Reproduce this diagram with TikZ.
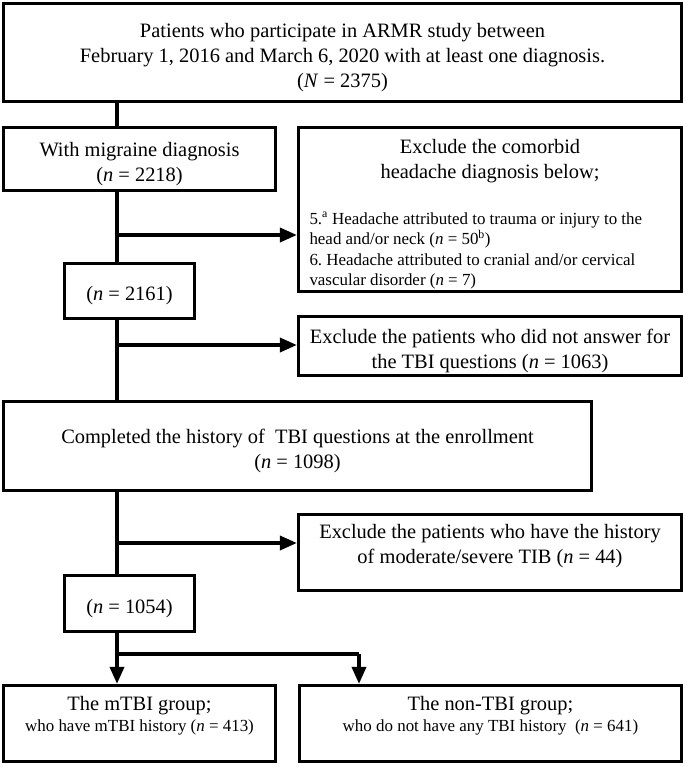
\documentclass[tikz,border=0pt]{standalone}
\usepackage{fontspec}
\setmainfont{Liberation Serif}
\usetikzlibrary{arrows.meta}

\newcommand{\smalltext}{\fontsize{17}{20.5}\selectfont}
\newcommand{\fl}{\rule{0pt}{24bp}}

\begin{document}
\begin{tikzpicture}[x=1bp, y=-1bp, line width=3.5bp,
    box/.style={draw, line width=3.2bp, inner sep=0pt, align=center,
      font=\fontsize{20.5}{25}\selectfont},
    >={Triangle[length=17bp, width=14bp]}]
  \def\tx{117}
  \def\rx{490}
  \def\lx{139.5}

  \useasboundingbox (0,0) rectangle (685,766);

  \node[box, minimum width=678bp, minimum height=98bp] (all) at (342.5, 52.5)
    {\fl Patients who participate in ARMR study between\\
     February 1, 2016 and March 6, 2020 with at least one diagnosis.\\
     (\textit{N} = 2375)};

  \node[box, minimum width=272bp, minimum height=63bp] (mig) at (\lx, 159)
    {\fl With migraine diagnosis\\(\textit{n} = 2218)};

  \node[box, text width=361bp, align=left,
        minimum width=383bp, minimum height=164bp] (exc1) at (\rx, 209.5)
    {\spaceskip=0pt \xspaceskip=0pt \frenchspacing
     \fl\centering Exclude the comorbid\\headache diagnosis below;\par
     \vspace{25bp}\raggedright\parfillskip=0pt plus 1fil\smalltext
     5.\textsuperscript{a} Headache attributed to trauma or injury to the\\
     head and/or neck (\textit{n} = 50\textsuperscript{b})\\
     6. Headache attributed to cranial and/or cervical\\
     vascular disorder (\textit{n} = 7)\par};

  \node[box, minimum width=130bp, minimum height=55bp] (n1) at (129.5, 291)
    {\fl(\textit{n} = 2161)};

  \node[box, minimum width=383bp, minimum height=59bp] (exc2) at (\rx, 346)
    {\fl Exclude the patients who did not answer for\\
     the TBI questions (\textit{n} = 1063)};

  \node[box, minimum width=588bp, minimum height=89bp] (tbiq) at (297.5, 446)
    {\fl Completed the history of\ \ TBI questions at the enrollment\\
     (\textit{n} = 1098)};

  \node[box, minimum width=383bp, minimum height=76bp] (exc3) at (\rx, 552.5)
    {\fl Exclude the patients who have the history\\
     of moderate/severe TIB (\textit{n} = 44)\rule[-27bp]{0pt}{0pt}};

  \node[box, minimum width=130bp, minimum height=56bp] (n2) at (129.5, 603.5)
    {\fl(\textit{n} = 1054)};

  \node[box, minimum width=272bp, minimum height=76bp] (mtbi) at (\lx, 723.5)
    {\fl The mTBI group;\\[-3bp]
     {\smalltext who have mTBI history (\textit{n} = 413)}\rule[-29bp]{0pt}{0pt}};

  \node[box, minimum width=382bp, minimum height=76bp] (ntbi) at (490.5, 723.5)
    {\fl The non-TBI group;\\[-3bp]
     {\smalltext who do not have any TBI history\ \ (\textit{n} = 641)}\rule[-29bp]{0pt}{0pt}};

  % trunk
  \coordinate (t) at (\tx, 0);
  \draw (all.south -| t) -- (mig.north -| t);
  \draw (mig.south -| t) -- (n1.north -| t);
  \draw (n1.south -| t) -- (tbiq.north -| t);
  \draw (tbiq.south -| t) -- (n2.north -| t);

  % exclusions
  \coordinate (s1) at (\tx, 235);
  \coordinate (s2) at (\tx, 345);
  \coordinate (s3) at (\tx, 543);
  \draw[->] (s1) -- (s1 -| exc1.west);
  \draw[->] (s2) -- (s2 -| exc2.west);
  \draw[->] (s3) -- (s3 -| exc3.west);

  % groups
  \coordinate (sp) at (\tx, 654);
  \coordinate (sq) at (359, 654);
  \draw (n2.south -| sp) -- (sp) -- (sq);
  \draw[->] (sp) -- (mtbi.north -| sp);
  \draw[->] (sq) -- (ntbi.north -| sq);
\end{tikzpicture}
\end{document}
